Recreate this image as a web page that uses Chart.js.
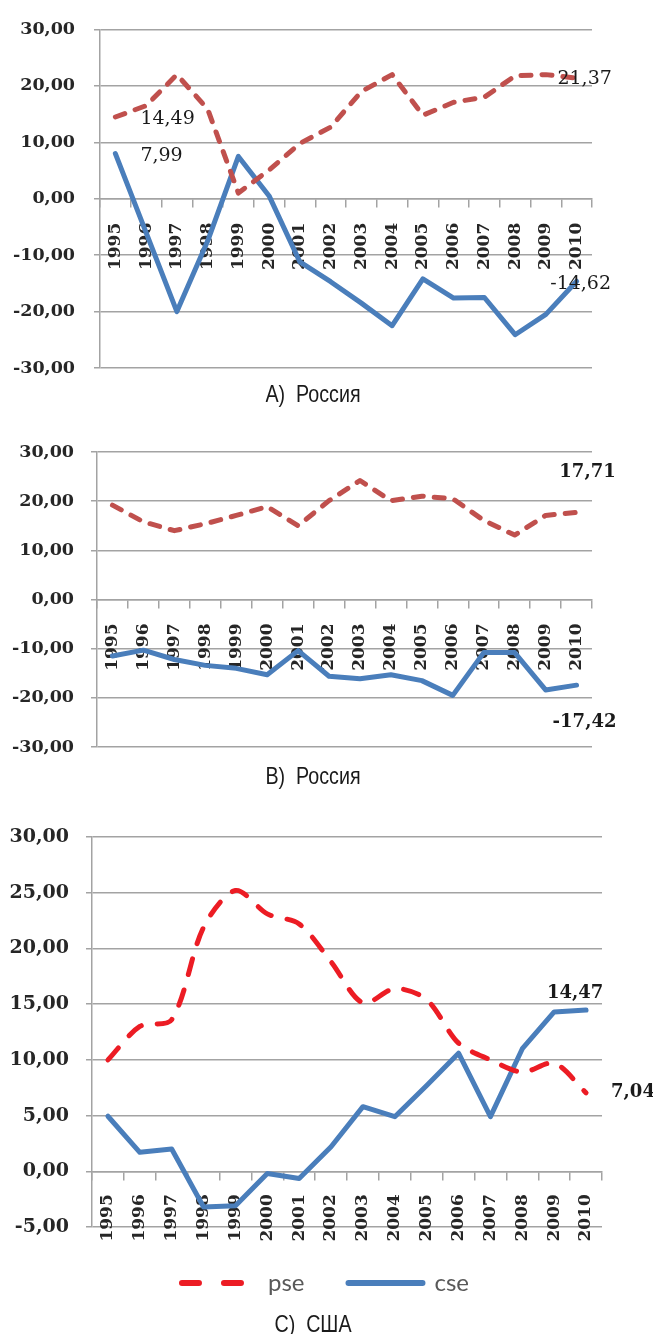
<!DOCTYPE html>
<html>
<head>
<meta charset="utf-8">
<script src="https://cdn.jsdelivr.net/npm/chart.js@4/dist/chart.umd.min.js"></script>
<style>
  html, body { margin: 0; padding: 0; background: #ffffff; }
  body { width: 653px; height: 1334px; position: relative; overflow: hidden; }
  .box { position: absolute; left: 0; width: 653px; }
  .cap { position: absolute; left: 313px; font-family: "Liberation Sans", Arial, sans-serif; font-size: 24px; line-height: 24px;
         color: #1a1a1a; white-space: pre; transform: translateX(-50%) scaleX(0.82); transform-origin: center; }
</style>
</head>
<body>
<div class="box" style="top:0;height:400px"><canvas id="cA"></canvas></div>
<div class="box" style="top:420px;height:360px"><canvas id="cB"></canvas></div>
<div class="box" style="top:800px;height:534px"><canvas id="cC"></canvas></div>
<div class="cap" style="top:382px">A)  Россия</div>
<div class="cap" style="top:764px">B)  Россия</div>
<div class="cap" style="top:1312px">C)  США</div>
<script>
// ---- data ----
const years = ['1995','1996','1997','1998','1999','2000','2001','2002','2003','2004','2005','2006','2007','2008','2009','2010'];
const seriesNames = ['pse', 'cse'];

const pseA = [14.49, 16.5, 22.0, 15.9, 1.0, 5.1, 9.8, 12.7, 19.0, 22.0, 14.8, 17.1, 18.0, 21.8, 22.0, 21.37];
const cseA = [7.99, -6.0, -20.0, -7.5, 7.5, 0.5, -11.2, -14.7, -18.5, -22.5, -14.2, -17.6, -17.5, -24.1, -20.5, -14.62];

const pseB = [19.2, 15.8, 14.0, 15.4, 17.1, 18.9, 15.0, 20.1, 24.2, 20.1, 21.0, 20.5, 16.1, 13.1, 17.1, 17.71];
const cseB = [-11.5, -10.3, -12.2, -13.4, -14.0, -15.3, -10.4, -15.6, -16.1, -15.3, -16.5, -19.5, -10.8, -10.8, -18.4, -17.42];

const pseC = [10.0, 13.0, 13.6, 21.9, 25.2, 23.1, 22.2, 18.8, 15.1, 16.4, 15.4, 11.5, 10.0, 8.9, 9.7, 7.04];
const cseC = [4.94, 1.7, 2.0, -3.2, -3.1, -0.2, -0.65, 2.2, 5.8, 4.9, 7.7, 10.6, 4.9, 11.0, 14.3, 14.47];

const yTicksA = [-30, -20, -10, 0, 10, 20, 30];
const yTicksC = [-5, 0, 5, 10, 15, 20, 25, 30];

// ---- helpers ----
const fmt = v => v.toFixed(2).replace('.', ',');
const GRID = '#a3a3a3';
const BLUE = '#4a7ebb';
const RED_AB = '#c0504d';
const RED_C = '#ec1c24';

const valueLabels = {
  id: 'valueLabels',
  afterDatasetsDraw(chart, args, opts) {
    const ctx = chart.ctx;
    (opts.items || []).forEach(it => {
      const el = chart.getDatasetMeta(it.ds).data[it.i];
      const v = chart.data.datasets[it.ds].data[it.i];
      ctx.save();
      ctx.font = opts.font;
      ctx.fillStyle = '#1a1a1a';
      ctx.textAlign = it.align;
      ctx.textBaseline = 'middle';
      ctx.fillText(fmt(v), el.x + it.dx, el.y + it.dy);
      ctx.restore();
    });
  }
};

// shifts the legend row to the right (legend box is centred under the plot in the original)
const legendShift = {
  id: 'legendShift',
  afterLayout(chart, args, opts) {
    if (chart.legend && opts.dx) { chart.legend.left += opts.dx; }
  }
};

function makeChart(id, cfg) {
  const ticks = cfg.yTicks;
  return new Chart(document.getElementById(id), {
    type: 'line',
    data: {
      labels: years,
      datasets: [
        { label: seriesNames[0], data: cfg.pse, borderColor: cfg.red, backgroundColor: cfg.red,
          borderWidth: 5, borderDash: cfg.dash, borderCapStyle: 'round', borderJoinStyle: 'round',
          pointRadius: 0, tension: cfg.tension || 0, fill: false },
        { label: seriesNames[1], data: cfg.cse, borderColor: BLUE, backgroundColor: BLUE,
          borderWidth: 5, borderCapStyle: 'round', borderJoinStyle: 'round',
          pointRadius: 0, tension: 0, fill: false }
      ]
    },
    options: {
      responsive: true,
      maintainAspectRatio: false,
      animation: false,
      events: [],
      layout: { padding: cfg.padding },
      plugins: {
        legend: cfg.legend || { display: false },
        legendShift: { dx: cfg.legendDx || 0 },
        tooltip: { enabled: false },
        valueLabels: { items: cfg.labels, font: cfg.labelFont }
      },
      scales: {
        x: {
          type: 'category',
          position: { y: 0 },
          offset: true,
          grid: { display: true, drawOnChartArea: false, drawTicks: true, tickLength: 8, offset: true, color: GRID, lineWidth: 1.5 },
          border: { display: true, color: GRID, width: 1.5 },
          ticks: { minRotation: 90, maxRotation: 90, autoSkip: false, padding: cfg.xPad,
                   font: { family: 'DejaVu Serif', size: 17, weight: 'bold' }, color: '#262626' }
        },
        y: {
          min: ticks[0], max: ticks[ticks.length - 1],
          afterFit: s => { s.width = cfg.yWidth; },
          afterBuildTicks: s => { s.ticks = ticks.map(v => ({ value: v })); },
          grid: { color: GRID, lineWidth: 1.5, tickLength: 6 },
          border: { display: true, color: GRID, width: 1.5 },
          ticks: { padding: cfg.yPad, callback: v => fmt(v),
                   font: { family: 'DejaVu Serif', size: cfg.yFont, weight: 'bold' }, color: '#262626' }
        }
      }
    },
    plugins: [valueLabels, legendShift]
  });
}

makeChart('cA', {
  pse: pseA, cse: cseA, red: RED_AB, dash: [10, 11], yTicks: yTicksA,
  padding: { top: 24, right: 61, bottom: 32, left: 0 }, yWidth: 100, yPad: 19, yFont: 17.5, xPad: 16,
  labelFont: '19px "DejaVu Serif"',
  labels: [
    { ds: 0, i: 0, dx: 25, dy: 2, align: 'left' },
    { ds: 1, i: 0, dx: 25, dy: 2, align: 'left' },
    { ds: 0, i: 15, dx: 8, dy: 1, align: 'center' },
    { ds: 1, i: 15, dx: 4, dy: 3, align: 'center' }
  ]
});

makeChart('cB', {
  pse: pseB, cse: cseB, red: RED_AB, dash: [10, 11], yTicks: yTicksA,
  padding: { top: 32, right: 61, bottom: 33, left: 0 }, yWidth: 97, yPad: 17, yFont: 17.5, xPad: 16,
  labelFont: 'bold 18px "DejaVu Serif"',
  labels: [
    { ds: 0, i: 15, dx: 11, dy: -40, align: 'center' },
    { ds: 1, i: 15, dx: 8, dy: 37, align: 'center' }
  ]
});

makeChart('cC', {
  pse: pseC, cse: cseC, red: RED_C, dash: [16, 16], tension: 0.3, yTicks: yTicksC,
  padding: { top: 37, right: 51, bottom: 29, left: 0 }, yWidth: 92, yPad: 17, yFont: 19, xPad: 15,
  labelFont: 'bold 18px "DejaVu Serif"',
  legendDx: 49,
  labels: [
    { ds: 1, i: 15, dx: -11, dy: -17, align: 'center' },
    { ds: 0, i: 15, dx: 25, dy: -1, align: 'left' }
  ],
  legend: {
    display: true,
    position: 'bottom',
    labels: {
      usePointStyle: true, pointStyle: 'line', pointStyleWidth: 74, padding: 44,
      font: { family: 'Lato', size: 24 }, color: '#595959',
      generateLabels: chart => Chart.defaults.plugins.legend.labels.generateLabels(chart).map((l, k) => {
        l.lineWidth = 6;
        l.lineCap = 'round';
        l.lineDash = k === 0 ? [17, 25] : [];
        l.pointStyle = 'line';
        return l;
      })
    }
  }
});
</script>
</body>
</html>
